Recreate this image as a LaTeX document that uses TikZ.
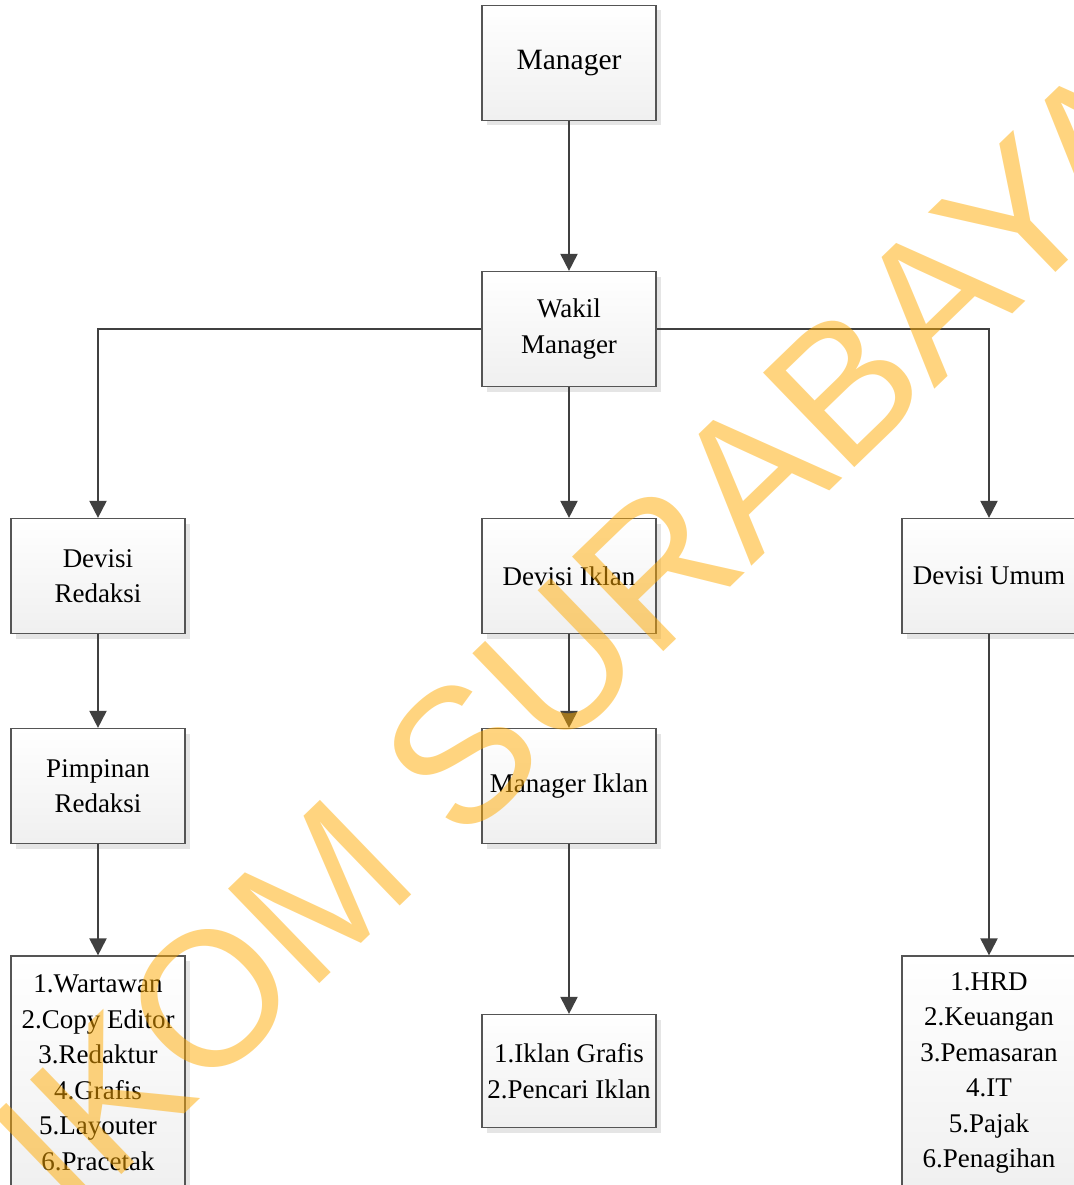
\documentclass[tikz,border=0pt]{standalone}
\usepackage{fontspec}
\setmainfont{Liberation Serif}
\newfontfamily\wmfont{Liberation Sans}
\usetikzlibrary{positioning, arrows.meta, shadows}
\definecolor{boxLine}{RGB}{85,85,85}
\definecolor{arrowGray}{RGB}{64,64,64}
\definecolor{wmYellow}{RGB}{255,170,0}

\tikzset{
    orgbox/.style={draw=boxLine, line width=1.2pt, top color=white, bottom color=gray!12,
        minimum width=174pt, minimum height=115pt, inner xsep=3pt, align=center,
        font=\fontsize{27}{35.5}\selectfont,
        drop shadow={shadow xshift=5pt, shadow yshift=-5pt, fill=gray!20, opacity=1}},
    listbox/.style={orgbox, minimum height=234pt},
    link/.style={draw=arrowGray, line width=2pt, -{Triangle[width=17pt,length=17pt]}}
}

\begin{document}
\begin{tikzpicture}[x=1pt, y=-1pt]
    \useasboundingbox (0,0) rectangle (1073,1185);

    % top of the chart
    \node[orgbox, font=\fontsize{29.5}{35.5}\selectfont] (mgr) at (569,63) {Manager};
    \node[orgbox] (wakil) at (569,329) {Wakil\\Manager};

    % divisions
    \node[orgbox] (redaksi) at (98,576) {Devisi\\Redaksi};
    \node[orgbox] (iklan) at (569,576) {Devisi Iklan};
    \node[orgbox] (umum) at (989,576) {Devisi Umum};

    \node[orgbox] (pimpinan) at (98,786) {Pimpinan\\Redaksi};
    \node[orgbox] (mgriklan) at (569,786) {Manager Iklan};

    % staff lists
    \node[listbox] (stafred) at (98,1073) {1.Wartawan\\2.Copy Editor\\3.Redaktur\\4.Grafis\\5.Layouter\\6.Pracetak};
    \node[orgbox, minimum height=113pt] (stafiklan) at (569,1071) {1.Iklan Grafis\\2.Pencari Iklan};
    \node[listbox] (stafumum) at (989,1073) {1.HRD\\2.Keuangan\\3.Pemasaran\\4.IT\\5.Pajak\\6.Penagihan};

    \draw[link] (mgr) -- (wakil);
    \draw[link] (wakil.west) -| (redaksi.north);
    \draw[link] (wakil.east) -| (umum.north);
    \draw[link] (wakil) -- (iklan);
    \draw[link] (redaksi) -- (pimpinan);
    \draw[link] (pimpinan) -- (stafred);
    \draw[link] (iklan) -- (mgriklan);
    \draw[link] (mgriklan) -- (stafiklan);
    \draw[link] (umum) -- (stafumum);

    % watermark
    \node[font=\wmfont\fontsize{191}{191}\selectfont, text=wmYellow, text opacity=0.5,
        rotate=44, anchor=base] (wmark) at (543,768) {STIKOM SURABAYA};
\end{tikzpicture}
\end{document}
